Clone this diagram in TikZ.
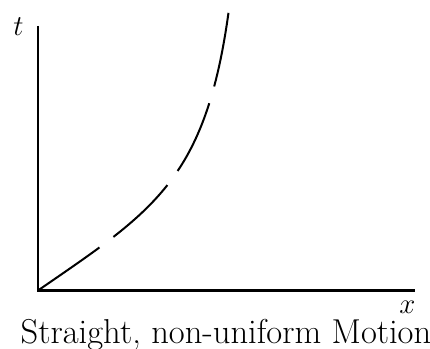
\documentclass[tikz,border=0pt]{standalone}
\usepackage{tikz}
\usetikzlibrary{positioning}
\tikzset{
  axis/.style={line width=1.2pt},
  motion/.style={line width=1pt,dash pattern=on 37.5pt off 8.75pt},
  lbl/.style={font=\Large,inner sep=0pt}
}
\begin{document}
\begin{tikzpicture}[x=0.5pt,y=0.5pt]
\useasboundingbox (-38,-58.5) rectangle (392,290.5);
\coordinate (O) at (0,0);
\coordinate (tend) at (0,264.5);
\coordinate (xend) at (377,0);
\coordinate (top) at (191,281.5);
% axes
\draw[axis] (tend) -- (O) -- (xend);
\node[lbl] (tlab) at (-19.5,264) {$t$};
\node[lbl] (xlab) at (369.5,-17) {$x$};
\node[font=\LARGE,anchor=base,inner sep=0pt] (cap) at (188,-53) {Straight, non-uniform Motion};
% world line
\draw[motion] (O) .. controls (115,79.4) and (168,110) .. (top);
\end{tikzpicture}
\end{document}
